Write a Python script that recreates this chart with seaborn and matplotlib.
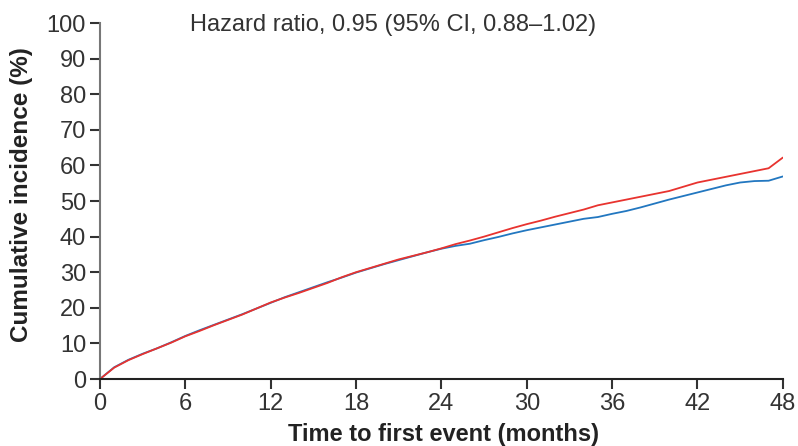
import numpy as np
import pandas as pd
import matplotlib
matplotlib.use("Agg")
import matplotlib.pyplot as plt
import seaborn as sns

months = list(range(0, 49))
red_values = [0, 3.2, 5.3, 7.0, 8.6, 10.2, 12.0, 13.5, 15.1, 16.6, 18.1, 19.8, 21.5,
              22.9, 24.2, 25.6, 27.0, 28.6, 30.0, 31.2, 32.4, 33.6, 34.6, 35.6, 36.7,
              37.9, 38.9, 40.0, 41.2, 42.4, 43.5, 44.5, 45.6, 46.6, 47.6, 48.8, 49.6,
              50.4, 51.2, 52.0, 52.8, 54.0, 55.2, 56.0, 56.8, 57.6, 58.4, 59.2, 62.2]
blue_values = [0, 3.3, 5.4, 7.1, 8.6, 10.3, 12.1, 13.7, 15.2, 16.7, 18.2, 19.8, 21.4,
               23.0, 24.4, 25.8, 27.2, 28.5, 29.9, 31.1, 32.3, 33.4, 34.5, 35.6, 36.6,
               37.4, 38.0, 39.0, 39.9, 40.9, 41.8, 42.6, 43.4, 44.2, 45.0, 45.5, 46.4,
               47.2, 48.2, 49.3, 50.4, 51.4, 52.4, 53.4, 54.4, 55.2, 55.6, 55.7, 56.9]
x_ticks = [0, 6, 12, 18, 24, 30, 36, 42, 48]
y_ticks = [0, 10, 20, 30, 40, 50, 60, 70, 80, 90, 100]
title_text = "Hazard ratio, 0.95 (95% CI, 0.88\u20131.02)"
x_label = "Time to first event (months)"
y_label = "Cumulative incidence (%)"

sns.set_style("ticks")
plt.rcParams['font.family'] = ['Liberation Sans', 'DejaVu Sans']

df = pd.DataFrame({
    "month": months * 2,
    "value": red_values + blue_values,
    "group": ["A"] * len(months) + ["B"] * len(months),
})

fig = plt.figure(figsize=(7.98, 4.46), dpi=100)
ax = fig.add_axes([0.1253, 0.1502, 0.981 - 0.1253, 0.9484 - 0.1502])

sns.lineplot(data=df, x="month", y="value", hue="group",
             palette={"A": "#e8332f", "B": "#2277c0"}, hue_order=["B", "A"],
             linewidth=1.3, legend=False, ax=ax)

ax.set_xlim(0, 48)
ax.set_ylim(0, 100)
ax.set_xticks(x_ticks)
ax.set_yticks(y_ticks)
ax.set_xticklabels([str(t) for t in x_ticks], fontsize=17, color="#333333")
ax.set_yticklabels([str(t) for t in y_ticks], fontsize=17, color="#333333")
ax.tick_params(axis="both", direction="out", length=7, width=1.5, colors="#333333",
               labelcolor="#333333")
ax.tick_params(axis="x", pad=3)
ax.tick_params(axis="y", pad=3)
for s in ["top", "right"]:
    ax.spines[s].set_visible(False)
ax.spines["left"].set_color("#777777")
ax.spines["left"].set_linewidth(1.5)
ax.spines["bottom"].set_color("#222222")
ax.spines["bottom"].set_linewidth(1.5)
ax.spines["left"].set_bounds(0, 100)

ax.set_xlabel(x_label, fontsize=17, fontweight="bold", color="#222222")
ax.set_ylabel(y_label, fontsize=17.5, fontweight="bold", color="#222222")
ax.xaxis.set_label_coords(443 / 798, 1 - 434 / 446, transform=fig.transFigure)
ax.yaxis.set_label_coords(22 / 798, 1 - 195 / 446, transform=fig.transFigure)
ax.xaxis.label.set_va("center")
ax.yaxis.label.set_va("center")

fig.text(190 / 798, 1 - 25 / 446, title_text, fontsize=17, color="#333333",
         ha="left", va="center")

fig.savefig("out.png", dpi=100)
